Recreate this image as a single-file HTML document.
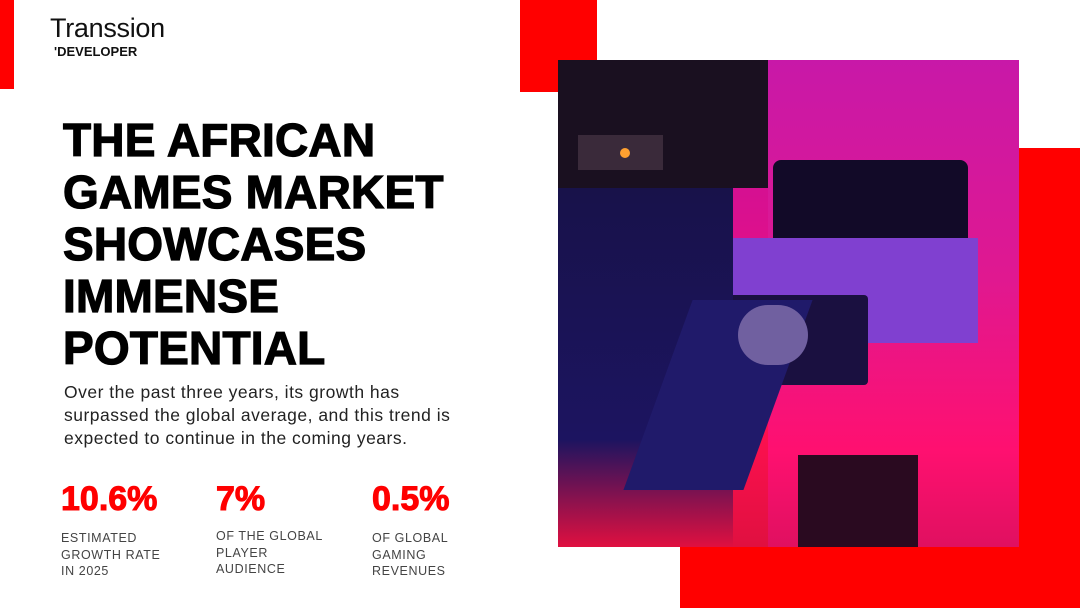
<!DOCTYPE html>
<html><head><meta charset="utf-8"><style>
*{margin:0;padding:0;box-sizing:border-box}
body{width:1080px;height:608px;background:#fff;position:relative;overflow:hidden;font-family:"Liberation Sans",sans-serif}
.a{position:absolute}
.red{background:#ff0000}
h1{position:absolute;left:63px;top:114px;font-size:46px;line-height:52px;font-weight:900;color:#000;letter-spacing:0.2px;-webkit-text-stroke:1.2px #000}
.body{left:64px;top:381px;font-size:17.5px;line-height:23px;color:#222;letter-spacing:0.5px}
.num{font-size:34px;font-weight:bold;color:#ff0000;-webkit-text-stroke:1px #ff0000;top:480px}
.lbl{font-size:12.5px;line-height:16.5px;color:#444;letter-spacing:0.6px;top:530px}
</style></head><body>
<div class="a red" style="left:0;top:0;width:14px;height:89px"></div>
<div class="a red" style="left:520px;top:0;width:77px;height:92px"></div>
<div class="a red" style="left:680px;top:148px;width:400px;height:460px"></div>
<div class="a" style="left:50px;top:13px;font-size:27px;color:#111;letter-spacing:-0.3px">Transsion</div>
<div class="a" style="left:54px;top:44px;font-size:13px;font-weight:bold;color:#111">'DEVELOPER</div>
<h1>THE AFRICAN<br>GAMES MARKET<br>SHOWCASES<br>IMMENSE<br>POTENTIAL</h1>
<div class="a body">Over the past three years, its growth has<br>surpassed the global average, and this trend is<br>expected to continue in the coming years.</div>
<div class="a num" style="left:61px">10.6%</div>
<div class="a num" style="left:216px">7%</div>
<div class="a num" style="left:372px">0.5%</div>
<div class="a lbl" style="left:61px">ESTIMATED<br>GROWTH RATE<br>IN 2025</div>
<div class="a lbl" style="left:216px;top:528px">OF THE GLOBAL<br>PLAYER<br>AUDIENCE</div>
<div class="a lbl" style="left:372px">OF GLOBAL<br>GAMING<br>REVENUES</div>
<div class="a" style="left:558px;top:60px;width:461px;height:487px;overflow:hidden;background:linear-gradient(180deg,#c010a0 0%,#e0108a 40%,#ff1050 75%,#e01040 100%)">
 <div class="a" style="left:210px;top:0;width:251px;height:487px;background:linear-gradient(180deg,#c818a8,#e01890 45%,#ff1070 80%,#e01060)"></div>
 <div class="a" style="left:0;top:0;width:210px;height:128px;background:#1a1020"></div>
 <div class="a" style="left:20px;top:75px;width:85px;height:35px;background:#3a2a3a"></div>
 <div class="a" style="left:62px;top:88px;width:10px;height:10px;border-radius:50%;background:#ffa030"></div>
 <div class="a" style="left:215px;top:100px;width:195px;height:103px;background:#120a28;border-radius:8px"></div>
 <div class="a" style="left:120px;top:178px;width:300px;height:105px;background:#8040d0"></div>
 <div class="a" style="left:150px;top:235px;width:160px;height:90px;background:#1a1040;border-radius:4px"></div>
 <div class="a" style="left:0;top:128px;width:175px;height:359px;background:linear-gradient(180deg,#18124a,#1c1460 70%,#e01040 100%)"></div>
 <div class="a" style="left:100px;top:240px;width:120px;height:190px;background:#201a6a;transform:skewX(-20deg)"></div>
 <div class="a" style="left:180px;top:245px;width:70px;height:60px;background:#7060a0;border-radius:30px"></div>
 <div class="a" style="left:240px;top:395px;width:120px;height:92px;background:#2a0a20"></div>
</div>
</body></html>
